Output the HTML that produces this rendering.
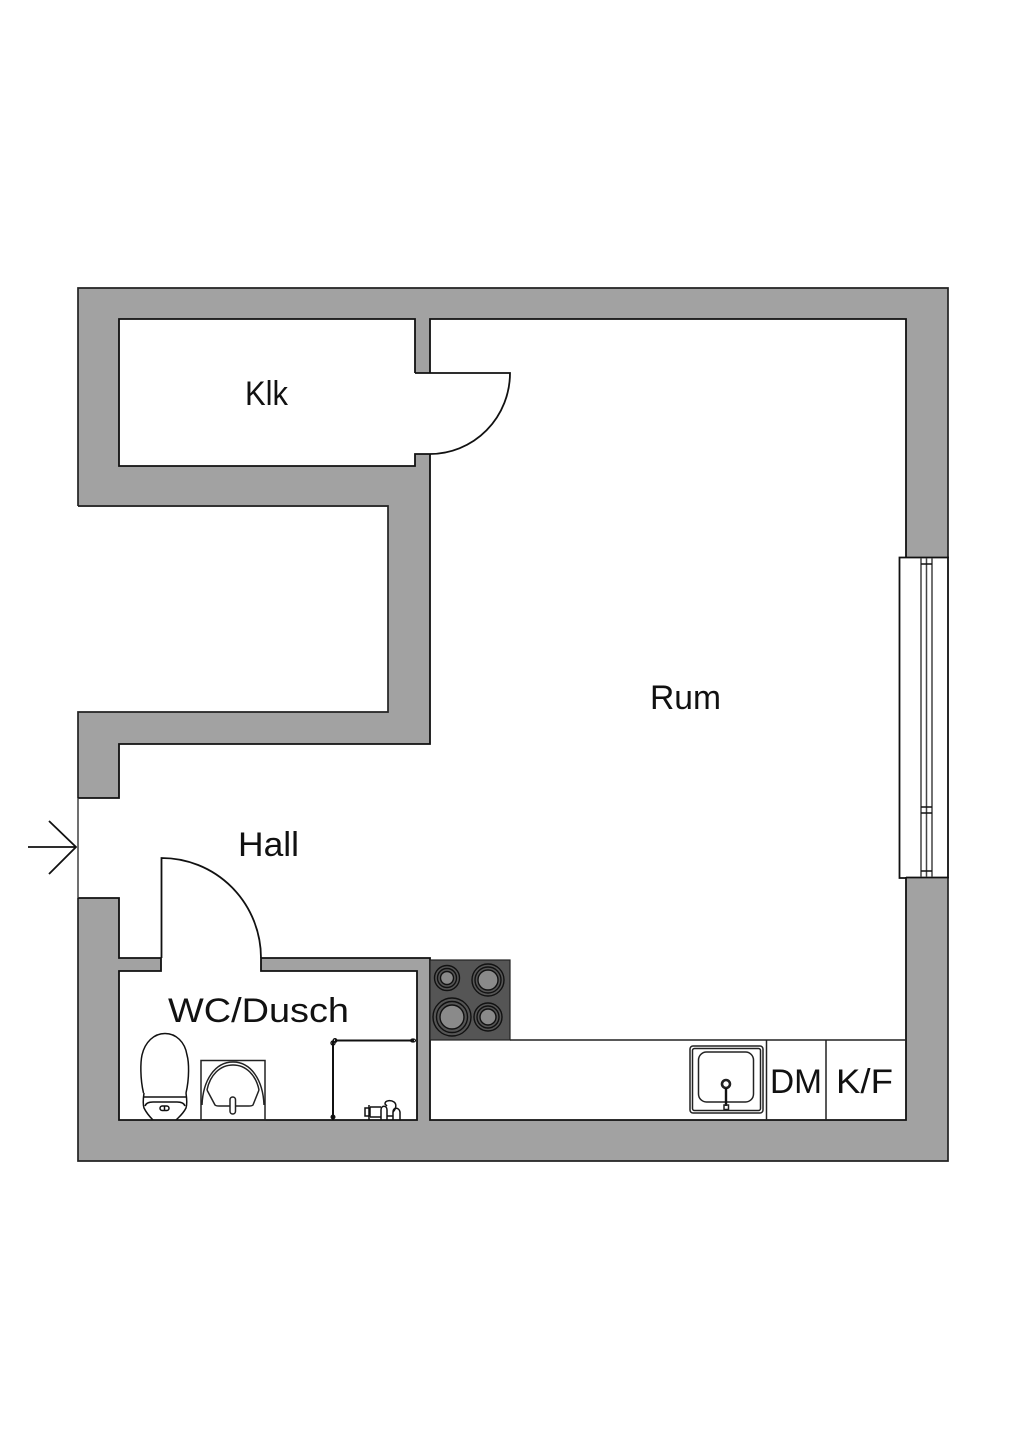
<!DOCTYPE html>
<html>
<head>
<meta charset="utf-8">
<style>
html,body{margin:0;padding:0;background:#fff;}
svg{display:block;}
text{font-family:"Liberation Sans",sans-serif;fill:#111;font-size:34px;}
</style>
</head>
<body>
<svg width="1024" height="1448" viewBox="0 0 1024 1448" xmlns="http://www.w3.org/2000/svg">
<rect width="1024" height="1448" fill="#fff"/>
<!-- walls -->
<path d="M78 288H948V1161H78V506H388V712H78Z" fill="#a2a2a2"/>
<rect x="77" y="507" width="311" height="205" fill="#fff"/>
<path d="M78 506V288H948V558M948 877V1161H78V898M78 798V712H388V506H78" fill="none" stroke="#222" stroke-width="1.7"/>
<!-- Klk -->
<path d="M119 319H415V373H430V454H415V466H119Z" fill="#fff"/>
<!-- Rum + Hall -->
<path d="M430 319H906V558H948V877H906V1120H430V958H261V971H161V958H119V898H78V798H119V744H430V454H415V373H430Z" fill="#fff"/>
<!-- WC -->
<path d="M119 971H161V958H261V971H417V1120H119Z" fill="#fff"/>
<rect x="119" y="958" width="42" height="13" fill="#a2a2a2"/>
<rect x="261" y="958" width="169" height="13" fill="#a2a2a2"/>
<rect x="417" y="958" width="13" height="162" fill="#a2a2a2"/>
<g fill="none" stroke="#111" stroke-width="1.8">
<path d="M415 373V319H119V466H415V454H430"/>
<path d="M430 373V319H906V558"/>
<path d="M906 877V1120H430V958H261V971H417V1120H119V971H161V958H119V898H78"/>
<path d="M78 798H119V744H430V454"/>
<path d="M78 798V898" stroke="#333" stroke-width="1.4"/>
<!-- doors -->
<path d="M415 373H510A80 81 0 0 1 430 454"/>
<path d="M161.500 958V858A99.500 100 0 0 1 261 958"/>
<!-- window -->
<path d="M906 557.500H899.500V878H906"/>
<path d="M906 557.500H948V877.500H906"/>
<path d="M921 558V877M926.500 558V877M932 558V877" stroke="#444" stroke-width="1.5"/>
<path d="M921 564H932M921 807H932M921 813H932M921 871H932" stroke-width="1.5"/>
</g>
<!-- entrance arrow -->
<path d="M28 847H76M49 821L76 847L49 874" fill="none" stroke="#111" stroke-width="1.8"/>
<!-- stove -->
<rect x="430" y="960" width="80" height="80" fill="#555" stroke="#222" stroke-width="1.2"/>
<g fill="none" stroke="#111" stroke-width="1.4">
<circle cx="447" cy="978" r="12.500"/><circle cx="447" cy="978" r="9.500"/><circle cx="447" cy="978" r="6.500" fill="#8a8a8a"/>
<circle cx="488" cy="980" r="16"/><circle cx="488" cy="980" r="13"/><circle cx="488" cy="980" r="10" fill="#8a8a8a"/>
<circle cx="452" cy="1017" r="19"/><circle cx="452" cy="1017" r="15.500"/><circle cx="452" cy="1017" r="12" fill="#8a8a8a"/>
<circle cx="488" cy="1017" r="14"/><circle cx="488" cy="1017" r="11"/><circle cx="488" cy="1017" r="8" fill="#8a8a8a"/>
</g>
<!-- counter -->
<g fill="none" stroke="#222" stroke-width="1.5">
<path d="M510 1040H906M766.500 1040V1120M826 1040V1120"/>
<rect x="690" y="1046" width="73" height="67" rx="3"/>
<rect x="692.500" y="1048.500" width="68" height="62" rx="2"/>
<rect x="698.500" y="1052" width="55" height="50" rx="8"/>
<circle cx="726" cy="1084" r="4" stroke-width="2.600"/>
<path d="M726 1088V1106" stroke="#111" stroke-width="2.400"/>
<rect x="724" y="1105" width="4.500" height="4.500"/>
</g>
<!-- toilet -->
<g fill="none" stroke="#111" stroke-width="1.5">
<path d="M143.500 1093C140 1078 140.500 1062 142 1055C145 1042 154 1033.500 165 1033.500C176 1033.500 185 1042 187 1055C189 1062 189.500 1078 186 1093"/>
<path d="M144 1097H186M144 1093C143 1100 143 1105 144 1108C147 1114 150 1117 153 1120M186 1093C187 1100 187 1105 186 1108C183 1114 179 1117 176 1120"/>
<path d="M145 1106C146 1103 149 1102 153 1102H177C181 1102 184 1103 185 1106"/>
<rect x="160" y="1106" width="9" height="4.500" rx="2.200"/>
<path d="M164.500 1106V1110.500"/>
</g>
<!-- basin -->
<g fill="none" stroke="#222" stroke-width="1.5">
<rect x="201" y="1060.500" width="64" height="59.500"/>
<path d="M202 1105C203 1080 215 1062 233 1062C251 1062 263 1080 264 1105"/>
<path d="M207 1090C210 1075 220 1065 233 1065C246 1065 256 1075 259 1090"/>
<path d="M207 1090L215 1105C216 1106 217 1106 219 1106H249C251 1106 252 1106 253 1105L259 1090"/>
<rect x="230" y="1097" width="5.500" height="17" rx="2.700" fill="#fff"/>
</g>
<!-- shower -->
<g fill="none" stroke="#111">
<path d="M333 1041V1120M335 1040.500H414" stroke-width="2"/>
<circle cx="333" cy="1043" r="2" stroke-width="1.400"/>
<circle cx="335" cy="1040.500" r="1.800" stroke-width="1.400"/>
<ellipse cx="413" cy="1040.500" rx="2.500" ry="1.500" stroke-width="1.200"/>
<circle cx="333" cy="1117" r="1.800" stroke-width="1.400"/>
<g stroke-width="1.500">
<path d="M365 1108H370V1116H365Z"/>
<path d="M370 1107H381M370 1117H381M369 1105V1120"/>
<path d="M381 1120V1110C381 1105 387 1105 387 1110V1120"/>
<path d="M387 1106L385 1104C385 1100 391 1100 394 1102C397 1104 396 1109 393 1112"/>
<path d="M393 1120V1112C393 1107 399 1107 400 1112V1120M387 1116H393"/>
</g>
</g>
<!-- labels -->
<text x="245" y="405" textLength="43" lengthAdjust="spacingAndGlyphs">Klk</text>
<text x="650" y="709" textLength="71" lengthAdjust="spacingAndGlyphs">Rum</text>
<text x="238" y="856" textLength="61" lengthAdjust="spacingAndGlyphs">Hall</text>
<text x="168" y="1022" textLength="181" lengthAdjust="spacingAndGlyphs">WC/Dusch</text>
<text x="770" y="1093" textLength="52" lengthAdjust="spacingAndGlyphs">DM</text>
<text x="836" y="1093" textLength="57" lengthAdjust="spacingAndGlyphs">K/F</text>
</svg>
</body>
</html>
